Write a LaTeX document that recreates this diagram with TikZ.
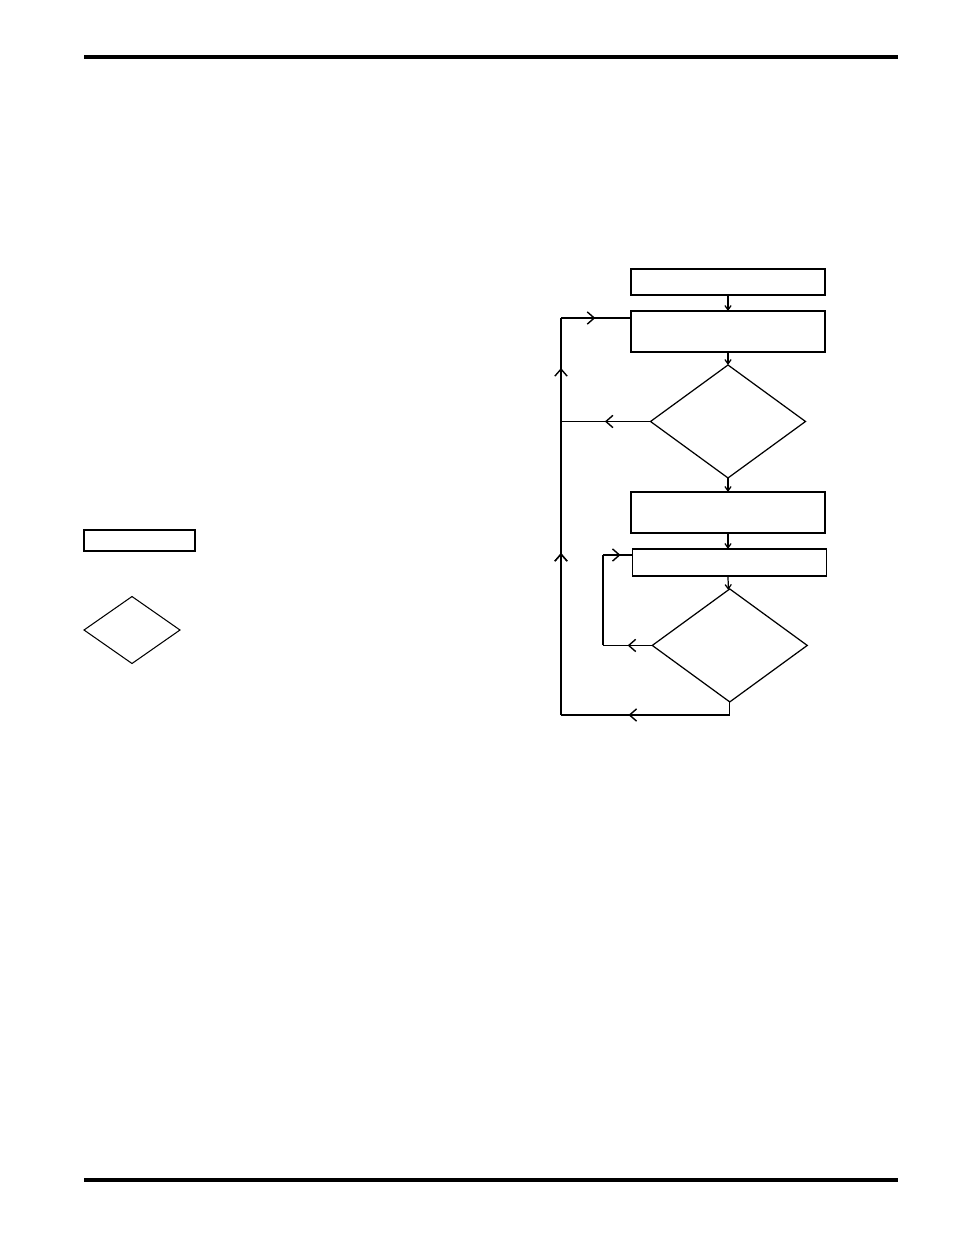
\documentclass[tikz,border=0pt]{standalone}
\usetikzlibrary{positioning,shapes.geometric,arrows.meta,decorations.markings}

\begin{document}
\begin{tikzpicture}[x=0.02cm,y=0.02cm,node distance=0.28cm,
		box/.style={draw,line width=0.8pt,minimum width=3.88cm,inner sep=0pt,outer sep=0pt},
		test/.style={draw,diamond,line width=0.7pt,minimum width=3.1cm,minimum height=2.26cm,inner sep=0pt,outer sep=0pt},
		flow/.style={line width=0.7pt,-{Straight Barb[length=2.5pt,width=3.5pt]}},
		back/.style={line width=0.8pt,postaction={decorate},
			decoration={markings,mark=at position #1 with {\arrow{Straight Barb[length=4pt,width=7pt]}}}},
		rule/.style={line width=2pt}]
	\useasboundingbox (0,0) rectangle (954,-1235);
	% page rules
	\draw[rule] (84,-57) -- (898,-57);
	\draw[rule,line width=2.4pt] (84,-1180) -- (898,-1180);
	% legend
	\node[box,minimum width=2.22cm,minimum height=0.42cm] (keybox) at (139.5,-540.5) {};
	\node[test,minimum width=1.92cm,minimum height=1.34cm,line width=0.6pt] (keytest) at (132,-630) {};
	% flowchart
	\node[box,minimum height=0.52cm] (start) at (728,-282) {};
	\node[box,minimum height=0.82cm] (load) [below=0.32cm of start] {};
	\node[test] (check) [below=0.26cm of load] {};
	\node[box,minimum height=0.82cm] (prep) [below=0.28cm of check] {};
	\node[box,minimum height=0.54cm,xshift=1] (step) [below=0.32cm of prep] {};
	\node[test] (done) [below=0.26cm of step] {};
	\draw[flow] (start) -- (load);
	\draw[flow] (load) -- (check);
	\draw[flow] (check) -- (prep);
	\draw[flow] (prep) -- (step.north -| prep.south);
	\draw[flow] (step.south -| prep.south) -- (done);
	% return paths
	\coordinate (low) at (done.south |- 0,-715);
	\coordinate (railbot) at (561,-715);
	\coordinate (railtop) at (561,-318);
	\coordinate (railmid) at (check.west -| railtop);
	\coordinate (inner) at (603,-555);
	\draw[line width=0.8pt] (done.south) -- (low);
	\draw[back=0.6] (low) -- (railbot);
	\draw[back=0.408,postaction={decorate,decoration={markings,mark=at position 0.874 with {\arrow{Straight Barb[length=4pt,width=7pt]}}}}] (railbot) -- (railtop);
	\draw[back=0.49] (railtop) -- (load.west |- railtop);
	\draw[back=0.51] (check.west) -- (railmid);
	\draw[back=0.5] (done.west) -- (done.west -| inner);
	\draw[line width=0.8pt] (done.west -| inner) -- (inner);
	\draw[back=0.59] (inner) -- (step.west |- inner);
\end{tikzpicture}
\end{document}
